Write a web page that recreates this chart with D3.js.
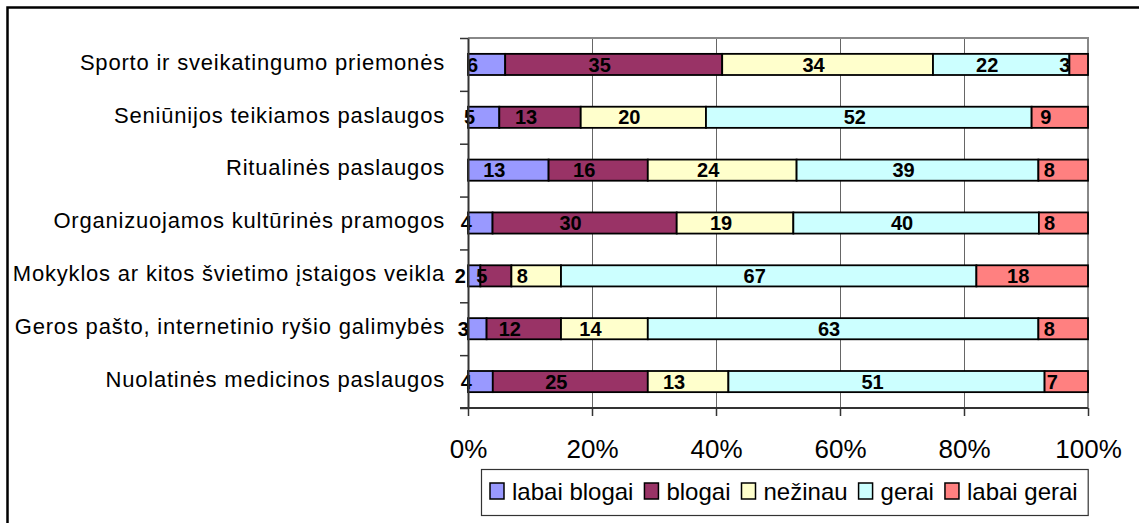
<!DOCTYPE html>
<html lang="lt">
<head>
    <meta charset="UTF-8">
    <script src="https://d3js.org/d3.v7.min.js"></script>
    <title>Paslaugų vertinimas</title>
</head>
<style>
    *{
        font-family: 'Liberation Sans', Arial, sans-serif;
    }
    body{
        margin: 0;
        background-color: white;
    }
    .cat-label{
        font-size: 22px;
        letter-spacing: 0.8px;
        fill: #000;
    }
    .bar-label{
        font-size: 20px;
        font-weight: bold;
        fill: #000;
    }
    #x-axis text{
        font-size: 26px;
        fill: #000;
    }
    .legend-text{
        font-size: 24px;
        fill: #000;
    }
</style>
<body>
    <svg id='canvas'></svg>
</body>
<script>
// data
let categories = [
    'Sporto ir sveikatingumo priemonės',
    'Seniūnijos teikiamos paslaugos',
    'Ritualinės paslaugos',
    'Organizuojamos kultūrinės pramogos',
    'Mokyklos ar kitos švietimo įstaigos veikla',
    'Geros pašto, internetinio ryšio galimybės',
    'Nuolatinės medicinos paslaugos'
]
let seriesNames = ['labai blogai', 'blogai', 'nežinau', 'gerai', 'labai gerai']
let labaiBlogai = [6, 5, 13, 4, 2, 3, 4]
let blogai = [35, 13, 16, 30, 5, 12, 25]
let nezinau = [34, 20, 24, 19, 8, 14, 13]
let gerai = [22, 52, 39, 40, 67, 63, 51]
let labaiGerai = [3, 9, 8, 8, 18, 8, 7]
let xTicks = [0, 0.2, 0.4, 0.6, 0.8, 1]

let colors = ['#9999FF', '#993366', '#FFFFCC', '#CCFFFF', '#FF8080']

let width = 1139
let height = 523
let plotLeft = 468
let plotRight = 1088
let plotTop = 38
let plotBottom = 408

let svg = d3.select('svg')
    .attr('width', width)
    .attr('height', height)
    .style('display', 'block')

// chart border (runs off the right and bottom edge like the original)
svg.append('rect')
    .attr('x', 7.5)
    .attr('y', 7.5)
    .attr('width', width + 20)
    .attr('height', height + 20)
    .attr('fill', 'white')
    .attr('stroke', '#000')
    .attr('stroke-width', 2.5)

let rows = categories.map((c, i) => {
    let vals = [labaiBlogai[i], blogai[i], nezinau[i], gerai[i], labaiGerai[i]]
    let total = d3.sum(vals)
    let acc = 0
    return vals.map((v, k) => {
        let seg = {cat: c, key: k, value: v, x0: acc / total, x1: (acc + v) / total}
        acc += v
        return seg
    })
})

let xScale = d3.scaleLinear().domain([0, 1]).range([plotLeft, plotRight])
let yScale = d3.scaleBand().domain(categories).range([plotTop, plotBottom])
    .paddingInner(0.6).paddingOuter(0.3)
let yTickScale = d3.scaleLinear().domain([0, categories.length]).range([plotTop, plotBottom])

// gridlines
svg.append('g')
    .selectAll('line')
    .data(xTicks.slice(1, -1))
    .enter()
    .append('line')
    .attr('x1', d => Math.round(xScale(d)) + 0.5)
    .attr('x2', d => Math.round(xScale(d)) + 0.5)
    .attr('y1', plotTop)
    .attr('y2', plotBottom)
    .attr('stroke', '#666')
    .attr('stroke-width', 1)

// plot area border top and right
svg.append('path')
    .attr('d', 'M' + plotLeft + ',' + plotTop + 'H' + plotRight + 'V' + plotBottom)
    .attr('fill', 'none')
    .attr('stroke', '#888')
    .attr('stroke-width', 2)

// bars
let barG = svg.append('g')
rows.forEach(row => {
    barG.selectAll(null)
        .data(row)
        .enter()
        .append('rect')
        .attr('x', d => xScale(d.x0))
        .attr('y', d => yScale(d.cat))
        .attr('width', d => xScale(d.x1) - xScale(d.x0))
        .attr('height', yScale.bandwidth())
        .attr('fill', d => colors[d.key])
        .attr('stroke', '#000')
        .attr('stroke-width', 1.8)
})

// bar labels (excel drew them a bit left of the segment centre)
rows.forEach(row => {
    barG.selectAll(null)
        .data(row)
        .enter()
        .append('text')
        .attr('class', 'bar-label')
        .attr('x', d => (xScale(d.x0) + xScale(d.x1)) / 2 - 14)
        .attr('y', d => yScale(d.cat) + yScale.bandwidth() / 2)
        .attr('dy', '0.36em')
        .attr('text-anchor', 'middle')
        .text(d => d.value)
})

// y axis: ticks between categories
let yAxis = d3.axisLeft(yTickScale)
    .tickValues(d3.range(categories.length + 1))
    .tickFormat('')
    .tickSize(8)
    .tickSizeOuter(0)
let yG = svg.append('g')
    .attr('transform', 'translate(' + plotLeft + ',0)')
    .call(yAxis)
yG.select('.domain').attr('stroke', '#333').attr('stroke-width', 2)
yG.selectAll('.tick line').attr('stroke', '#333').attr('stroke-width', 1.5)

// category labels
svg.append('g')
    .selectAll('text')
    .data(categories)
    .enter()
    .append('text')
    .attr('class', 'cat-label')
    .attr('x', 445)
    .attr('y', d => yScale(d) + yScale.bandwidth() / 2)
    .attr('dy', '0.24em')
    .attr('text-anchor', 'end')
    .text(d => d)

// x axis
let xAxis = d3.axisBottom(xScale)
    .tickValues(xTicks)
    .tickFormat(d3.format('.0%'))
    .tickSize(8)
    .tickSizeOuter(0)
    .tickPadding(24)
let xG = svg.append('g')
    .attr('id', 'x-axis')
    .attr('transform', 'translate(0,' + plotBottom + ')')
    .call(xAxis)
xG.select('.domain')
    .attr('d', 'M' + (plotLeft - 8) + ',0H' + plotRight)
    .attr('stroke', '#333')
    .attr('stroke-width', 2)
xG.selectAll('.tick line').attr('stroke', '#333').attr('stroke-width', 1.5)
xG.attr('font-family', null).attr('font-size', null)

// legend
let legX = 481
let legY = 469
let legH = 46
let legend = svg.append('g')
let legBox = legend.append('rect')
    .attr('x', legX + 0.5)
    .attr('y', legY + 0.5)
    .attr('height', legH)
    .attr('fill', 'white')
    .attr('stroke', '#333')
    .attr('stroke-width', 1.2)

let cx = legX + 9
seriesNames.forEach((name, i) => {
    legend.append('rect')
        .attr('x', cx)
        .attr('y', legY + 14)
        .attr('width', 14)
        .attr('height', 16)
        .attr('fill', colors[i])
        .attr('stroke', '#000')
        .attr('stroke-width', 1.5)
    let t = legend.append('text')
        .attr('class', 'legend-text')
        .attr('x', cx + 22)
        .attr('y', legY + legH / 2)
        .attr('dy', '0.33em')
        .text(name)
    cx += 22 + t.node().getComputedTextLength() + 11
})
legBox.attr('width', cx - legX - 1)
</script>
</html>
